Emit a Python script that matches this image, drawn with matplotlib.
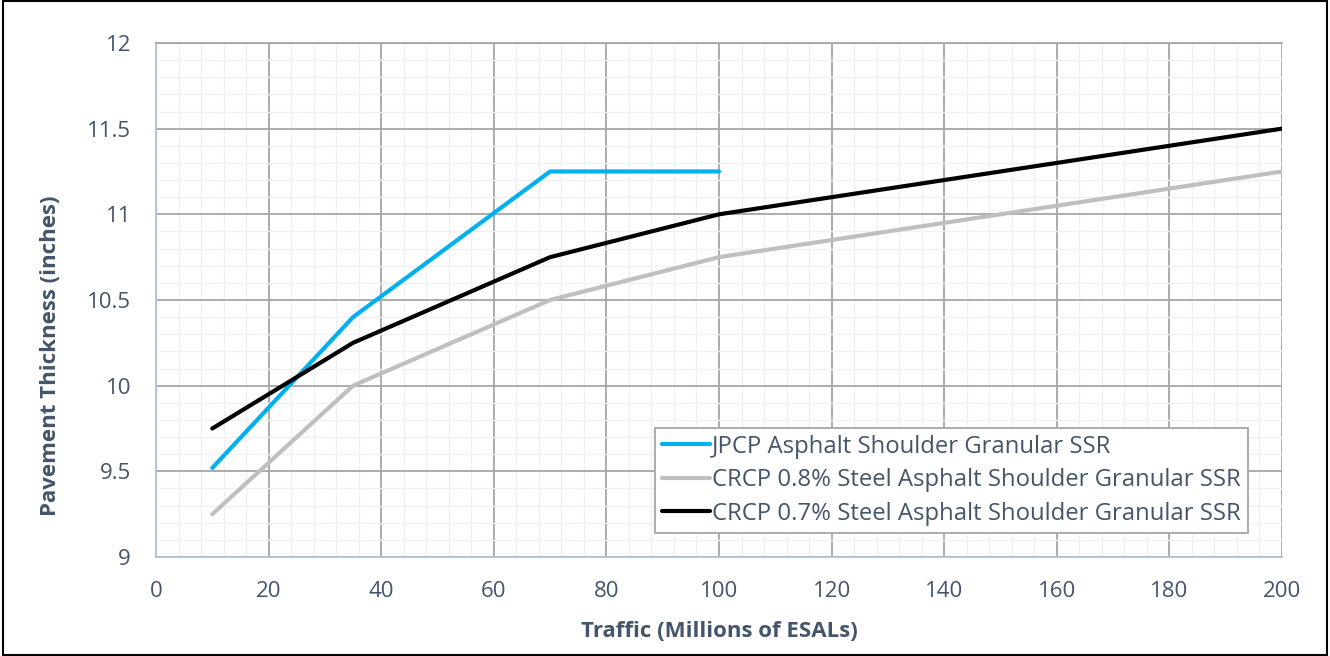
import numpy as np
import matplotlib
matplotlib.use("Agg")
import matplotlib.pyplot as plt
from matplotlib.patches import Rectangle
from matplotlib.ticker import MultipleLocator

plt.rcParams['font.family'] = ['Open Sans', 'DejaVu Sans']

# Data
jpcp_x = [10, 35, 70, 100]
jpcp_y = [9.52, 10.4, 11.25, 11.25]
crcp08_x = [10, 35, 70, 100, 200]
crcp08_y = [9.25, 10.0, 10.5, 10.75, 11.25]
crcp07_x = [10, 35, 70, 100, 200]
crcp07_y = [9.75, 10.25, 10.75, 11.0, 11.5]
labels = ["JPCP Asphalt Shoulder Granular SSR",
          "CRCP 0.8% Steel Asphalt Shoulder Granular SSR",
          "CRCP 0.7% Steel Asphalt Shoulder Granular SSR"]
yticks = [9, 9.5, 10, 10.5, 11, 11.5, 12]
yticklabels = ['9', '9.5', '10', '10.5', '11', '11.5', '12']

txt = '#44546a'

fig = plt.figure(figsize=(13.3, 6.56), dpi=100)
ax = fig.add_axes([0.1173, 0.1509, 0.8466, 0.7836])

ax.plot(jpcp_x, jpcp_y, color='#00b0f0', lw=3, label=labels[0], solid_capstyle='round')
ax.plot(crcp08_x, crcp08_y, color='#bfbfbf', lw=3, label=labels[1], solid_capstyle='round')
ax.plot(crcp07_x, crcp07_y, color='black', lw=3, label=labels[2], solid_capstyle='round')

ax.set_xlim(0, 200)
ax.set_ylim(9, 12)
ax.xaxis.set_major_locator(MultipleLocator(20))
ax.xaxis.set_minor_locator(MultipleLocator(4))
ax.set_yticks(yticks, yticklabels)
ax.yaxis.set_minor_locator(MultipleLocator(0.1))
ax.grid(which='major', color='#a6a6a6', lw=1.3)
ax.grid(which='minor', color='#eef0f3', lw=1.0)
ax.set_axisbelow(True)
ax.tick_params(which='both', length=0, labelsize=16, colors=txt)
ax.tick_params(axis='x', pad=17)
ax.tick_params(axis='y', pad=18)

for s in ['top', 'right']:
    ax.spines[s].set_color('#a6a6a6')
    ax.spines[s].set_linewidth(1.3)
for s in ['left', 'bottom']:
    ax.spines[s].set_color('#b4c0d8')
    ax.spines[s].set_linewidth(1.3)
ax.spines['right'].set_visible(False)

ax.set_xlabel('Traffic (Millions of ESALs)', fontsize=16, fontweight='bold', color=txt, labelpad=14)
ax.set_ylabel('Pavement Thickness (inches)', fontsize=16, fontweight='bold', color=txt)
ax.yaxis.set_label_coords(-0.084, 0.391)

leg = ax.legend(loc='lower right', bbox_to_anchor=(0.9698, 0.0467), fontsize=17.2, frameon=True,
                fancybox=False, edgecolor='#a6a6a6', framealpha=1, handlelength=2.0,
                handletextpad=0.1, borderpad=0.3, labelspacing=0.4, borderaxespad=0)
leg.get_frame().set_linewidth(1.3)
for t in leg.get_texts():
    t.set_color(txt)

fig.patches.append(Rectangle((0.002, 0.002), 0.996, 0.996, transform=fig.transFigure,
                             fill=False, edgecolor='black', lw=1.5))

fig.savefig('out.png', dpi=100)
